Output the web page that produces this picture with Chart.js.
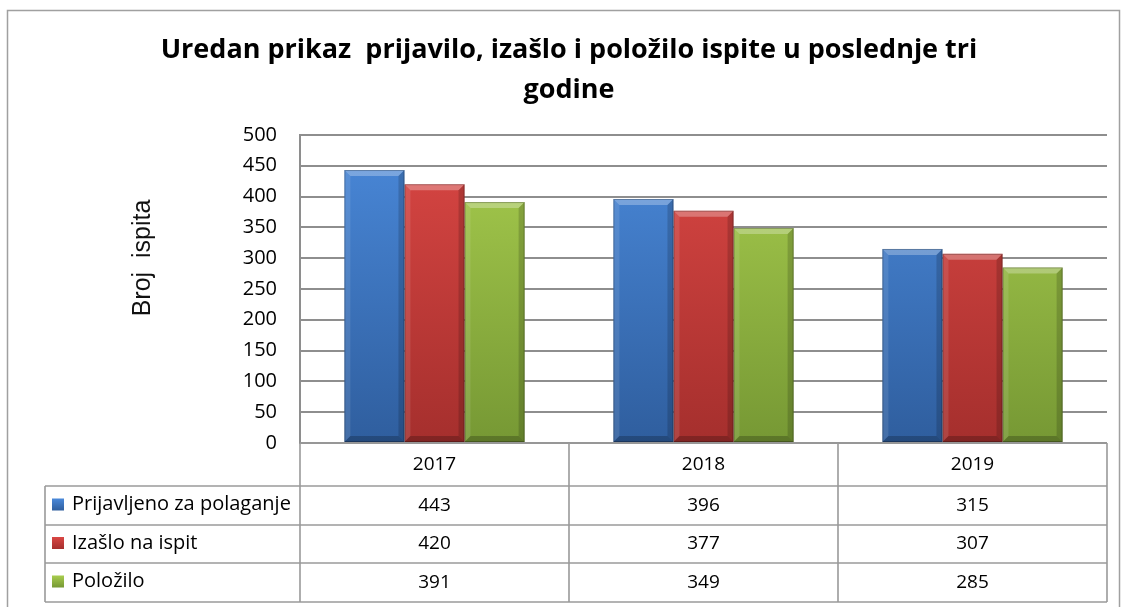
<!DOCTYPE html>
<html>
<head>
<meta charset="utf-8">
<script src="https://cdn.jsdelivr.net/npm/chart.js@4/dist/chart.umd.min.js"></script>
<style>
html, body { margin: 0; padding: 0; background: #fff; }
#wrap { width: 1121px; height: 607px; }
</style>
</head>
<body>
<div id="wrap"><canvas id="ispitiChart" width="1121" height="607"></canvas></div>
<script>
var years = ['2017', '2018', '2019'];
var seriesNames = ['Prijavljeno za polaganje', 'Izašlo na ispit', 'Položilo'];
var prijavljeno = [443, 396, 315];
var izaslo = [420, 377, 307];
var polozilo = [391, 349, 285];
var yMin = 0, yMax = 500, yStep = 50;

var chartTitle = ['Uredan prikaz  prijavilo, izašlo i položilo ispite u poslednje tri', 'godine'];
var yTitle = 'Broj  ispita';

var barColors = [
    { top: '#4a89da', bottom: '#2f5e9e' },
    { top: '#da4744', bottom: '#a52f2d' },
    { top: '#a8cd4e', bottom: '#769834' }
];
var gridColor = '#8e8e8e';
var fontName = '"Open Sans", Lato, sans-serif';

function barFill(c) {
    return function(context) {
        var chart = context.chart;
        var area = chart.chartArea;
        if (!area) return c.bottom;
        var g = chart.ctx.createLinearGradient(0, area.top, 0, area.bottom);
        g.addColorStop(0, c.top);
        g.addColorStop(1, c.bottom);
        return g;
    };
}

// frame round the whole chart + rotated y title
var framePlugin = {
    id: 'frame',
    beforeDraw: function(chart) {
        var ctx = chart.ctx;
        ctx.save();
        ctx.strokeStyle = '#a0a0a0';
        ctx.lineWidth = 1.5;
        ctx.strokeRect(7.5, 10.5, 1112, 640);
        ctx.restore();
    },
    afterDraw: function(chart) {
        var ctx = chart.ctx;
        ctx.save();
        ctx.translate(143, 258);
        ctx.rotate(-Math.PI / 2);
        ctx.font = '25px "Liberation Sans", Arial, sans-serif';
        ctx.fillStyle = '#111';
        ctx.textAlign = 'center';
        ctx.textBaseline = 'middle';
        ctx.fillText(yTitle, 0, 0);
        ctx.restore();
    }
};

// bevel look on each bar
var bevelPlugin = {
    id: 'bevel',
    afterDatasetsDraw: function(chart) {
        var ctx = chart.ctx;
        chart.data.datasets.forEach(function(ds, i) {
            chart.getDatasetMeta(i).data.forEach(function(bar) {
                var l = bar.x - bar.width / 2, r = bar.x + bar.width / 2;
                var t = bar.y, b = bar.base, e = 6;
                ctx.save();
                ctx.fillStyle = 'rgba(255,255,255,0.28)';
                ctx.beginPath();
                ctx.moveTo(l, t); ctx.lineTo(r, t); ctx.lineTo(r - e, t + e); ctx.lineTo(l + e, t + e);
                ctx.closePath(); ctx.fill();
                ctx.fillStyle = 'rgba(255,255,255,0.10)';
                ctx.beginPath();
                ctx.moveTo(l, t); ctx.lineTo(l + e, t + e); ctx.lineTo(l + e, b - e); ctx.lineTo(l, b);
                ctx.closePath(); ctx.fill();
                ctx.fillStyle = 'rgba(0,0,0,0.16)';
                ctx.beginPath();
                ctx.moveTo(r, t); ctx.lineTo(r - e, t + e); ctx.lineTo(r - e, b - e); ctx.lineTo(r, b);
                ctx.closePath(); ctx.fill();
                ctx.fillStyle = 'rgba(0,0,0,0.22)';
                ctx.beginPath();
                ctx.moveTo(l, b); ctx.lineTo(l + e, b - e); ctx.lineTo(r - e, b - e); ctx.lineTo(r, b);
                ctx.closePath(); ctx.fill();
                ctx.strokeStyle = 'rgba(0,0,0,0.25)';
                ctx.lineWidth = 1;
                ctx.strokeRect(l + 0.5, t + 0.5, bar.width - 1, b - t - 1);
                ctx.restore();
            });
        });
    }
};

// data table under the plot, columns taken from the x scale
var tablePlugin = {
    id: 'dataTable',
    afterDraw: function(chart) {
        var ctx = chart.ctx;
        var xs = chart.scales.x;
        var area = chart.chartArea;
        var colW = xs.width / years.length;
        var rowTop = [area.bottom, area.bottom + 43, area.bottom + 82, area.bottom + 120, area.bottom + 159];
        var legendLeft = 45;
        var series = [prijavljeno, izaslo, polozilo];

        ctx.save();
        ctx.strokeStyle = '#9a9a9a';
        ctx.lineWidth = 1.6;
        ctx.beginPath();
        ctx.moveTo(area.left, rowTop[0]); ctx.lineTo(area.right, rowTop[0]);
        for (var r = 1; r < rowTop.length; r++) {
            ctx.moveTo(legendLeft, rowTop[r]); ctx.lineTo(area.right, rowTop[r]);
        }
        ctx.moveTo(legendLeft, rowTop[1]); ctx.lineTo(legendLeft, rowTop[4]);
        for (var c = 0; c <= years.length; c++) {
            var x = area.left + c * colW;
            ctx.moveTo(x, rowTop[0]); ctx.lineTo(x, rowTop[4]);
        }
        ctx.stroke();

        ctx.fillStyle = '#000';
        ctx.textBaseline = 'middle';
        ctx.font = '19px ' + fontName;
        ctx.textAlign = 'center';
        years.forEach(function(y, i) {
            var cx = xs.getPixelForTick(i);
            ctx.fillText(y, cx, (rowTop[0] + rowTop[1]) / 2);
            series.forEach(function(vals, s) {
                ctx.fillText(String(vals[i]), cx, (rowTop[s + 1] + rowTop[s + 2]) / 2);
            });
        });

        ctx.textAlign = 'left';
        ctx.font = '20px ' + fontName;
        seriesNames.forEach(function(name, s) {
            var cy = (rowTop[s + 1] + rowTop[s + 2]) / 2 - 1;
            var g = ctx.createLinearGradient(0, cy - 6, 0, cy + 6);
            g.addColorStop(0, barColors[s].top);
            g.addColorStop(1, barColors[s].bottom);
            ctx.fillStyle = g;
            ctx.fillRect(52, cy - 6, 12, 12);
            ctx.fillStyle = '#000';
            ctx.fillText(name, 72, cy);
        });
        ctx.restore();
    }
};

var ctx = document.getElementById('ispitiChart').getContext('2d');
var data = {
    labels: years,
    datasets: [
        { label: seriesNames[0], data: prijavljeno, backgroundColor: barFill(barColors[0]) },
        { label: seriesNames[1], data: izaslo, backgroundColor: barFill(barColors[1]) },
        { label: seriesNames[2], data: polozilo, backgroundColor: barFill(barColors[2]) }
    ]
};

var options = {
    responsive: false,
    animation: false,
    layout: { padding: { left: 31, right: 14, top: 0, bottom: 164 } },
    datasets: { bar: { barPercentage: 1.0, categoryPercentage: 0.67 } },
    plugins: {
        legend: { display: false },
        tooltip: { enabled: false },
        title: {
            display: true,
            text: chartTitle,
            color: '#000',
            font: { family: fontName, size: 27, weight: 'bold', lineHeight: 1.48 },
            padding: { top: 30, bottom: 25 }
        }
    },
    scales: {
        x: {
            display: false
        },
        y: {
            min: yMin,
            max: yMax,
            afterFit: function(scale) { scale.width = 300 - 31; },
            ticks: {
                stepSize: yStep,
                color: '#000',
                padding: 23,
                font: { family: fontName, size: 20 }
            },
            grid: { color: gridColor, lineWidth: 2, drawTicks: false },
            border: { display: true, color: gridColor, width: 2 }
        }
    }
};

var myBarChart = new Chart(ctx, {
    type: 'bar',
    data: data,
    options: options,
    plugins: [framePlugin, bevelPlugin, tablePlugin]
});
</script>
</body>
</html>
